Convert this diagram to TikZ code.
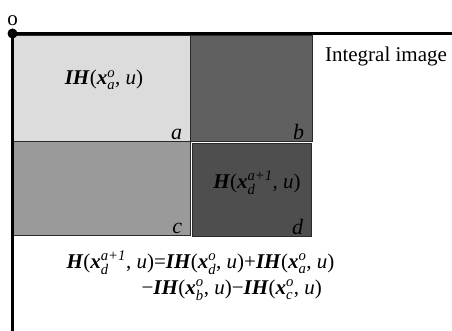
\documentclass[tikz,border=0pt]{standalone}
\usepackage{amsmath}
\usepackage{fontspec}
\setmainfont{Liberation Serif}
\usetikzlibrary{positioning}
\definecolor{CellA}{HTML}{DCDCDC}
\definecolor{CellB}{HTML}{606060}
\definecolor{CellC}{HTML}{9A9A9A}
\definecolor{CellD}{HTML}{4E4E4E}
\definecolor{Edge}{HTML}{2A2A2A}
\newcommand{\bi}[1]{\textbf{\textit{#1}}}
\newcommand{\xs}[2]{\bi{x}$^{\textit{#1}}_{\textit{#2}}$}

\begin{document}
\begin{tikzpicture}[x=1pt,y=-1pt,font=\fontsize{21}{25}\selectfont,
    cell/.style={draw=Edge,line width=0.8pt,inner sep=0pt},
    corner/.style={font=\fontsize{22}{26}\selectfont\itshape,anchor=south east,
      inner xsep=8pt,inner ysep=1pt},
    frame/.style={line width=2.2pt,draw=black}]
  \useasboundingbox (0,0) rectangle (452,331);
  % four regions of the integral image
  \node[cell,fill=CellA,minimum width=177pt,minimum height=106pt] (ra) at (101.5,88) {};
  \node[cell,fill=CellB,minimum width=122pt,minimum height=106pt] (rb) at (251,88) {};
  \node[cell,fill=CellC,minimum width=177pt,minimum height=94pt] (rc) at (101.5,188) {};
  \node[cell,fill=CellD,minimum width=119pt,minimum height=93pt] (rd) at (251.5,189.5) {};
  \node[corner] (la) at (ra.south east) {a};
  \node[corner] (lb) at (rb.south east) {b};
  \node[corner] (lc) at (rc.south east) {c};
  \node[corner] (ld) at (rd.south east) {d};
  % axes and origin
  \coordinate (o) at (12.5,33.5);
  \coordinate (topend) at (452,33.5);
  \coordinate (leftend) at (12.5,331);
  \draw[frame] (topend) -- (o) -- (leftend);
  \node[circle,fill=black,inner sep=0pt,minimum size=10pt] (dot) at (o) {};
  \node[above=0pt of dot,inner sep=2pt] (olabel) {o};
  % texts
  \node (title) at (386,56) {Integral image};
  \node (ta) at (104,80) {\bi{IH}(\xs{o}{a}, \textit{u})};
  \node (td) at (257,183) {\bi{H}(\xs{a+1}{d}, \textit{u})};
  \node[anchor=west] (eq1) at (63,263)
    {\bi{H}(\xs{a+1}{d}, \textit{u})=\bi{IH}(\xs{o}{d}, \textit{u})+\bi{IH}(\xs{o}{a}, \textit{u})};
  \node[anchor=west] (eq2) at (138,290)
    {−\bi{IH}(\xs{o}{b}, \textit{u})−\bi{IH}(\xs{o}{c}, \textit{u})};
\end{tikzpicture}
\end{document}
